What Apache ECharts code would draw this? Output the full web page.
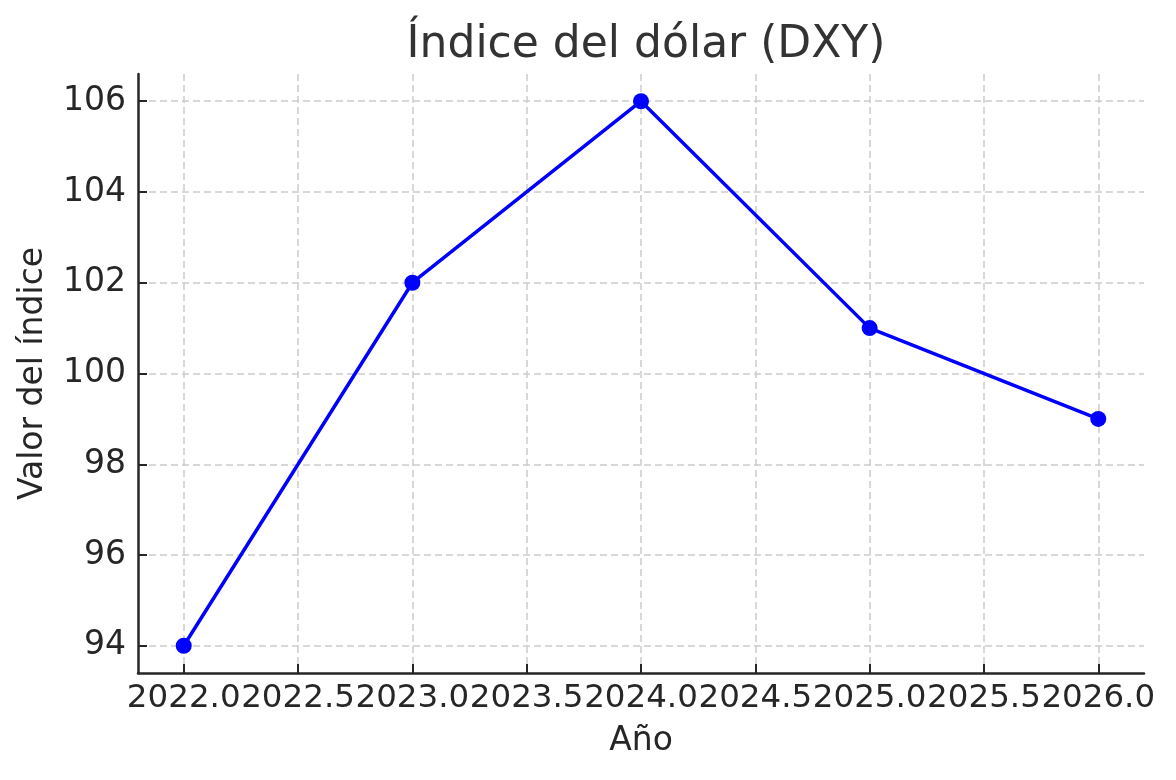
<!DOCTYPE html>
<html>
<head>
<meta charset="utf-8">
<script src="https://cdn.jsdelivr.net/npm/echarts@6/dist/echarts.min.js"></script>
<style>
  html, body { margin: 0; padding: 0; background: #fff; }
  #chart { width: 1176px; height: 780px; }
</style>
</head>
<body>
<div id="chart"></div>
<script>
// datos
var years = [2022, 2023, 2024, 2025, 2026];
var dxy = [94, 102, 106, 101, 99];
var xTicks = [2022.0, 2022.5, 2023.0, 2023.5, 2024.0, 2024.5, 2025.0, 2025.5, 2026.0];
var yTicks = [94, 96, 98, 100, 102, 104, 106];

var font = 'DejaVu Sans';
var ink = '#262626';

var chart = echarts.init(document.getElementById('chart'), null, { renderer: 'canvas' });

var points = years.map(function (y, i) { return [y, dxy[i]]; });

var option = {
  backgroundColor: '#fff',
  animation: false,
  title: {
    text: 'Índice del dólar (DXY)',
    left: 641,
    textAlign: 'center',
    top: 19,
    textStyle: { fontFamily: font, fontSize: 44, fontWeight: 'normal', color: '#333' }
  },
  grid: { left: 138, right: 32, top: 74, bottom: 107 },
  xAxis: {
    type: 'value',
    min: 2021.8,
    max: 2026.2,
    name: 'Año',
    nameLocation: 'middle',
    nameGap: 52,
    nameTextStyle: { fontFamily: font, fontSize: 33, color: ink },
    axisLine: { show: true, lineStyle: { color: ink, width: 2.5 } },
    axisTick: { show: true, inside: true, length: 9, customValues: xTicks, lineStyle: { color: ink, width: 2 } },
    axisLabel: {
      customValues: xTicks,
      fontFamily: font, fontSize: 32.5, color: ink, margin: 9,
      formatter: function (v) { return v.toFixed(1); }
    },
    splitLine: { show: true, lineStyle: { color: '#cccccc', width: 1.5, type: [7, 4] } }
  },
  yAxis: {
    type: 'value',
    min: 93.4,
    max: 106.6,
    name: 'Valor del índice',
    nameLocation: 'middle',
    nameGap: 88,
    nameRotate: 90,
    nameTextStyle: { fontFamily: font, fontSize: 33, color: ink },
    axisLine: { show: true, lineStyle: { color: ink, width: 2.5 } },
    axisTick: { show: true, inside: true, length: 9, customValues: yTicks, lineStyle: { color: ink, width: 2 } },
    axisLabel: {
      customValues: yTicks,
      fontFamily: font, fontSize: 33, color: ink, margin: 12
    },
    splitLine: { show: true, lineStyle: { color: '#cccccc', width: 1.5, type: [7, 4] } }
  },
  series: [{
    type: 'line',
    data: points,
    symbol: 'circle',
    symbolSize: 16,
    itemStyle: { color: '#0000ff' },
    lineStyle: { color: '#0000ff', width: 3.5 }
  }]
};

chart.setOption(option);
</script>
</body>
</html>
